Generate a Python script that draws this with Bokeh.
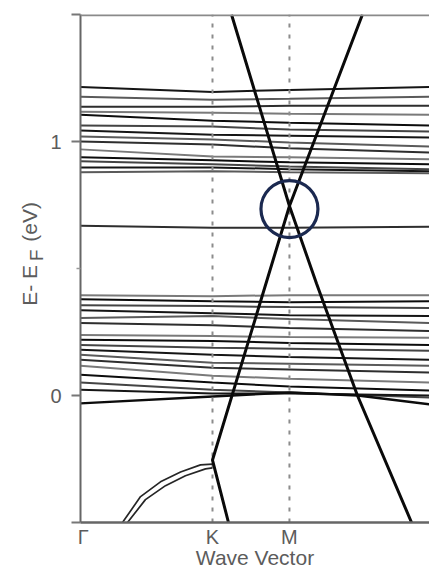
from bokeh.plotting import figure
from bokeh.models import FixedTicker, Span, Range1d, ColumnDataSource, LinearAxis
from bokeh.embed import file_html
from bokeh.resources import INLINE

# ---- data -------------------------------------------------------------
k_labels = ["\u00a0Γ", "K", "M"]
k_ticks = [0.0, 1.0, 1.583]
k_band = [0.0, 1.0, 1.583, 2.65]           # Γ, K, M, end of path

upper_bands = [
    [1.215, 1.195, 1.203, 1.215],
    [1.176, 1.164, 1.168, 1.176],
    [1.137, 1.137, 1.141, 1.141],
    [1.117, 1.113, 1.109, 1.105],
    [1.105, 1.082, 1.074, 1.063],
    [1.063, 1.059, 1.047, 1.039],
    [1.043, 1.027, 1.023, 1.016],
    [1.020, 1.008, 0.996, 0.980],
    [1.000, 0.988, 0.973, 0.957],
    [0.969, 0.941, 0.938, 0.930],
    [0.938, 0.926, 0.918, 0.910],
    [0.922, 0.910, 0.902, 0.891],
    [0.898, 0.898, 0.891, 0.883],
    [0.879, 0.883, 0.879, 0.875],
    [0.668, 0.660, 0.660, 0.664],
]
lower_bands = [
    [0.395, 0.391, 0.395, 0.395],
    [0.379, 0.371, 0.367, 0.371],
    [0.355, 0.352, 0.348, 0.344],
    [0.336, 0.324, 0.316, 0.313],
    [0.305, 0.313, 0.301, 0.285],
    [0.285, 0.277, 0.266, 0.254],
    [0.238, 0.234, 0.230, 0.227],
    [0.219, 0.215, 0.207, 0.199],
    [0.199, 0.188, 0.184, 0.176],
    [0.180, 0.160, 0.152, 0.141],
    [0.160, 0.129, 0.125, 0.117],
    [0.141, 0.109, 0.102, 0.090],
    [0.117, 0.078, 0.066, 0.051],
    [0.082, 0.051, 0.035, 0.020],
    [0.051, 0.023, 0.012, -0.008],
    [0.023, 0.008, 0.008, 0.000],
]
lowest_k = [0.0, 1.0, 1.583, 2.1, 2.65]
lowest_e = [-0.031, -0.004, 0.012, 0.0, -0.035]

# linear (cone) bands meeting at M
cone1_k = [1.144, 1.583, 1.0, 1.121]
cone1_e = [1.5, 0.746, -0.254, -0.5]
cone2_k = [2.136, 1.583, 1.788, 2.098, 2.508]
cone2_e = [1.5, 0.746, 0.441, 0.0, -0.5]

# doubled band between Γ and K
arc1_k = [0.318, 0.455, 0.606, 0.758, 0.909, 1.0]
arc1_e = [-0.5, -0.398, -0.340, -0.301, -0.273, -0.270]
arc2_k = [0.356, 0.492, 0.644, 0.795, 0.947, 1.0]
arc2_e = [-0.5, -0.410, -0.355, -0.316, -0.289, -0.285]

# highlighted crossing
hl_k = [1.583]
hl_e = [0.734]

y_ticks = [-0.5, 0, 1, 1.5]
y_tick_labels = ["", "0", "1", ""]
y_minor = [0.5]

E_MIN, E_MAX = -0.5, 1.5
K_MAX = 2.644

# ---- figure -----------------------------------------------------------
FONT = "Liberation Sans"
TXT = "#5c5c5c"
NB = "\u00a0"

p = figure(width=429, height=571, x_range=Range1d(0, K_MAX), y_range=Range1d(E_MIN, E_MAX),
           output_backend="svg", toolbar_location=None,
           min_border_left=80, min_border_right=0, min_border_top=14, min_border_bottom=45)
p.outline_line_color = None
p.grid.visible = False
p.background_fill_color = "white"
p.border_fill_color = "white"

shades = ["#151515", "#5a5a5a", "#2e2e2e", "#7a7a7a", "#0c0c0c", "#444444"]
all_bands = upper_bands + lower_bands
src = ColumnDataSource(dict(
    xs=[k_band] * len(all_bands),
    ys=all_bands,
    color=[shades[i % len(shades)] for i in range(len(all_bands))],
))
p.multi_line("xs", "ys", source=src, line_color="color", line_width=2.0)
p.line(lowest_k, lowest_e, line_color="#0c0c0c", line_width=2.4)

# high-symmetry dotted verticals
p.segment(x0=k_ticks[1:], y0=[E_MIN] * 2, x1=k_ticks[1:], y1=[E_MAX] * 2,
          line_color="#8c8c8c", line_width=2, line_dash="4 7")

p.line(arc1_k, arc1_e, line_color="#262626", line_width=1.7)
p.line(arc2_k, arc2_e, line_color="#262626", line_width=1.7)

p.line(cone1_k, cone1_e, line_color="#0a0a0a", line_width=3)
p.line(cone2_k, cone2_e, line_color="#0a0a0a", line_width=3)

p.scatter(hl_k, hl_e, marker="circle", size=57, fill_color=None,
          line_color="#1b2950", line_width=3.2)

# top frame line
p.add_layout(Span(location=E_MAX, dimension="width", line_color="#8a8a8a", line_width=3.5))

# x axis
xa = p.xaxis[0]
xa.ticker = FixedTicker(ticks=k_ticks)
xa.major_label_overrides = {t: l for t, l in zip(k_ticks, k_labels)}
xa.major_tick_out = 0
xa.major_tick_in = 0
xa.minor_tick_out = 0
xa.minor_tick_in = 0
xa.axis_line_color = "#666666"
xa.axis_line_width = 2.5
xa.major_label_standoff = 3
xa.major_label_text_font = FONT
xa.major_label_text_font_size = "20px"
xa.major_label_text_color = TXT
xa.axis_label = "Wave Vector"
xa.axis_label_standoff = -5
xa.axis_label_text_font = FONT
xa.axis_label_text_font_size = "21px"
xa.axis_label_text_font_style = "normal"
xa.axis_label_text_color = TXT

# y axis (ticks + subscript "F" of the label)
ya = p.yaxis[0]
ya.ticker = FixedTicker(ticks=y_ticks, minor_ticks=y_minor)
ya.major_label_overrides = {t: l for t, l in zip(y_ticks, y_tick_labels)}
ya.major_tick_out = 9
ya.major_tick_in = 0
ya.minor_tick_out = 4
ya.minor_tick_in = 0
ya.major_tick_line_color = "#777777"
ya.major_tick_line_width = 2
ya.minor_tick_line_color = "#999999"
ya.minor_tick_line_width = 1.5
ya.axis_line_color = "#666666"
ya.axis_line_width = 2
ya.major_label_standoff = 10
ya.major_label_text_font = FONT
ya.major_label_text_font_size = "20px"
ya.major_label_text_color = TXT
ya.axis_label = NB * 5 + "F"
ya.axis_label_standoff = 0
ya.axis_label_text_font = FONT
ya.axis_label_text_font_size = "19px"
ya.axis_label_text_font_style = "normal"
ya.axis_label_text_color = TXT

# outer label axis carrying "E- E    (eV)"
lab = LinearAxis(ticker=FixedTicker(ticks=[]), axis_line_color=None,
                 major_tick_line_color=None, minor_tick_line_color=None,
                 major_tick_out=0, major_tick_in=0, minor_tick_out=0, minor_tick_in=0,
                 major_label_standoff=0,
                 axis_label=NB * 5 + "E-" + NB + "E" + NB * 4 + "(eV)",
                 axis_label_standoff=-17, axis_label_text_font=FONT,
                 axis_label_text_font_size="21px", axis_label_text_font_style="normal",
                 axis_label_text_color=TXT)
p.add_layout(lab, "left")

open("out.html", "w").write(file_html(p, INLINE))
